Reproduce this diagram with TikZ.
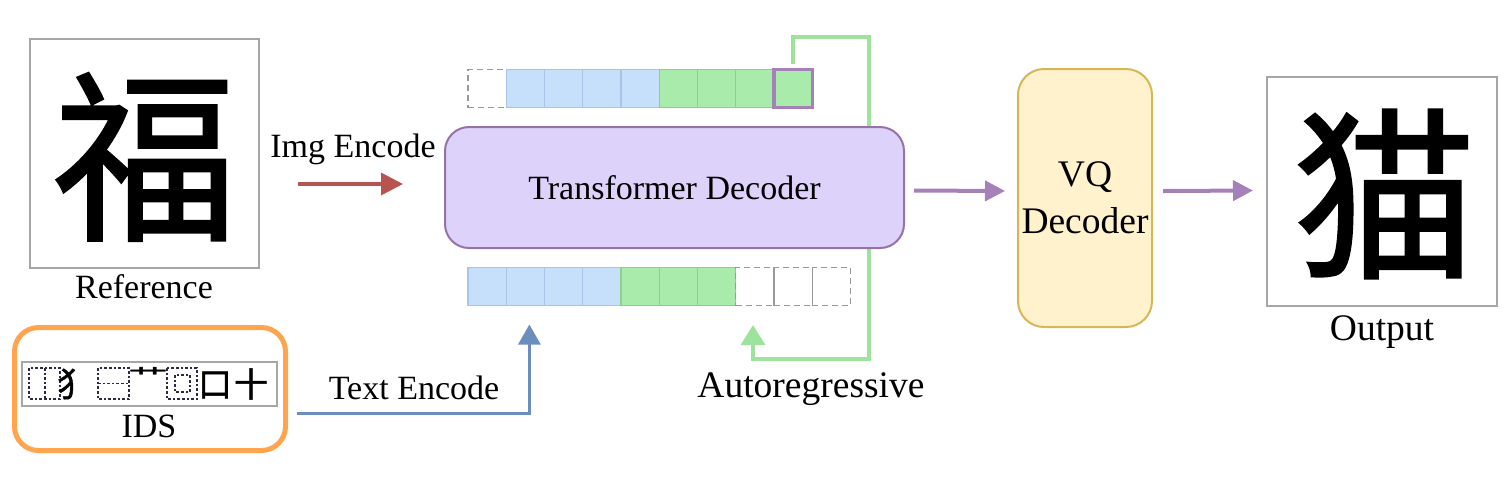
\documentclass[tikz,border=0pt]{standalone}
\usepackage{fontspec}
\usepackage{graphicx}
\setmainfont{Liberation Serif}
\newfontfamily\cjk{Noto Sans CJK SC}
\newfontfamily\cjkbig[FakeBold=1.2]{Noto Sans CJK SC}
\usetikzlibrary{arrows.meta,calc}
\definecolor{framegray}{HTML}{A6A6A6}
\definecolor{idsorange}{HTML}{FFA54F}
\definecolor{encred}{HTML}{B85450}
\definecolor{encblue}{HTML}{6C8EBF}
\definecolor{tfill}{HTML}{DCD2FA}
\definecolor{tdraw}{HTML}{9673A6}
\definecolor{arrpurple}{HTML}{A680B8}
\definecolor{vqfill}{HTML}{FFF2CC}
\definecolor{vqdraw}{HTML}{D6B656}
\definecolor{loopgreen}{HTML}{9DE39D}
\definecolor{cblue}{HTML}{C6E0FC}
\definecolor{cbluedraw}{HTML}{A9C4E6}
\definecolor{cgreen}{HTML}{A8EBAA}
\definecolor{cgreendraw}{HTML}{8CD08F}
\definecolor{idsdash}{HTML}{2E2840}
\begin{document}
\begin{tikzpicture}[x=0.5pt,y=-0.5pt,
  lbl/.style={font=\fontsize{17}{20}\selectfont, inner sep=0pt, anchor=base},
  lblL/.style={font=\fontsize{18.75}{22}\selectfont, inner sep=0pt, anchor=base},
  imgframe/.style={draw=framegray, line width=1pt, minimum width=114.5pt, minimum height=114.5pt, inner sep=0pt},
  cell/.style={minimum width=19.125pt, minimum height=19pt, inner sep=0pt, outer sep=0pt, line width=0.6pt},
  bluecell/.style={cell, fill=cblue, draw=cbluedraw},
  greencell/.style={cell, fill=cgreen, draw=cgreendraw},
  emptycell/.style={cell, draw=gray!80, dashed, dash pattern=on 3pt off 2pt},
  hicell/.style={cell, fill=cgreen, draw=arrpurple, line width=1.6pt},
  encarrow/.style={line width=1.75pt, -{Triangle[length=11pt,width=11pt]}},
  idsbox/.style={draw=idsdash, line width=0.7pt, dash pattern=on 1.3pt off 1pt},
  idschar/.style={font=\cjkbig\fontsize{17}{17}\selectfont, inner sep=0pt}
]
\useasboundingbox (0,0) rectangle (1511,479);

% ---------- reference ----------
\node[imgframe] (ref) at (144.5,153.5) {};
\node[font=\cjkbig\fontsize{92}{92}\selectfont, inner sep=0pt] (refchar) at (145,157) {福};
\node[lbl] (reflbl) at (144,298) {Reference};

% ---------- IDS ----------
\node[draw=idsorange, line width=2.5pt, rounded corners=12pt, minimum width=135.5pt, minimum height=61.5pt, inner sep=0pt] (ids) at (150,389) {};
\node[draw=framegray, line width=1pt, minimum width=127.5pt, minimum height=22pt, inner sep=0pt] (idsseq) at (149.5,384) {};
\draw[idsbox] (29,368) rectangle (60,399);
\draw[idsbox] (45,368) -- (45,399);
\node[idschar] (c1) at (74,384) {犭};
\draw[idsbox] (98,368) rectangle (129,399);
\draw[idsbox] (98,383.5) -- (129,383.5);
\node[font=\cjkbig\fontsize{20}{20}\selectfont, inner sep=0pt] (c2) at (148,375) {\scalebox{1}[0.5]{艹}};
\draw[idsbox] (167,368) rectangle (197,399);
\draw[idsbox] (175,375) rectangle (190,392);
\node[idschar] (c3) at (215,385) {口};
\node[idschar] (c4) at (251,384) {十};
\node[lbl] (idslbl) at (149,437) {IDS};

% ---------- token rows ----------
\coordinate (loopend) at (753,325);
\foreach \i/\st in {0/emptycell,1/bluecell,2/bluecell,3/bluecell,4/bluecell,5/greencell,6/greencell,7/greencell,8/hicell}{
  \node[\st] (t\i) at ({468+38.25*(\i+0.5)},88.5) {};
}
\foreach \i/\st in {0/bluecell,1/bluecell,2/bluecell,3/bluecell,4/greencell,5/greencell,6/greencell,7/emptycell,8/emptycell,9/emptycell}{
  \node[\st] (b\i) at ({468+38.25*(\i+0.5)},286.5) {};
}
% ---------- green autoregressive loop (behind decoder) ----------
\draw[loopgreen, line width=1.75pt, -{Triangle[length=10pt,width=12pt]}]
  ($(t8.north)+(0,-6)$) |- (869,37) |- (753,359) -- (loopend);

% ---------- transformer decoder ----------
\node[draw=tdraw, fill=tfill, line width=1pt, rounded corners=12pt, minimum width=229.5pt, minimum height=60.5pt, inner sep=0pt, font=\fontsize{17}{20}\selectfont] (tdec) at (674.5,187.5) {Transformer Decoder};

% ---------- img encode ----------
\coordinate (imgA) at (298,184);
\coordinate (imgB) at (403,184);
\draw[encarrow, encred] (imgA) -- (imgB);
\node[lbl] (imglbl) at (353,157) {Img Encode};

% ---------- text encode ----------
\coordinate (txtA) at (297,413);
\draw[encblue, line width=1.5pt, -{Triangle[length=10pt,width=11pt]}] (txtA) -| ($(b1.south)+(4,19)$);
\node[lbl] (txtlbl) at (414,399) {Text Encode};

\node[lblL] (arlbl) at (811,397) {Autoregressive};

% ---------- VQ decoder ----------
\node[draw=vqdraw, fill=vqfill, line width=1pt, rounded corners=13pt, minimum width=67pt, minimum height=129pt, inner sep=0pt, align=center, font=\fontsize{18.75}{23.5}\selectfont] (vq) at (1085,198) {VQ\\Decoder};

% ---------- output ----------
\node[draw=framegray, line width=1pt, minimum width=115pt, minimum height=114.5pt, inner sep=0pt] (out) at (1382,191.5) {};
\node[font=\cjkbig\fontsize{92}{92}\selectfont, inner sep=0pt] (outchar) at (1385,194) {猫};
\node[lblL] (outlbl) at (1382,340) {Output};

% ---------- purple arrows ----------
\draw[arrpurple, line width=2pt, -{Triangle[length=10pt,width=10pt]}] ($(tdec.east)+(9,3)$) -- ($(vq.west)+(-12,-7)$);
\draw[arrpurple, line width=2pt, -{Triangle[length=10pt,width=10pt]}] ($(vq.east)+(10,-7)$) -- ($(out.west)+(-13,-1)$);
\end{tikzpicture}
\end{document}
